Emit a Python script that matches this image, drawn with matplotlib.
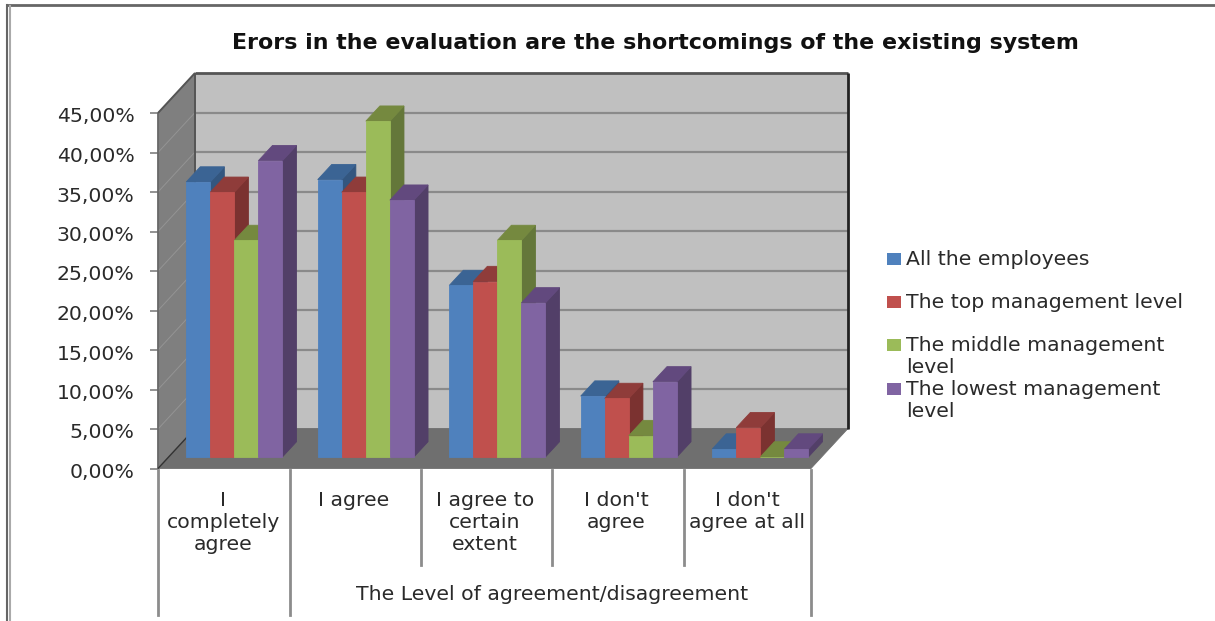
import matplotlib
matplotlib.use("Agg")
import matplotlib.pyplot as plt
from matplotlib.transforms import ScaledTranslation

W, H = 1215, 621
title = "Erors in the evaluation are the shortcomings of the existing system"
categories = ["I\ncompletely\nagree", "I agree", "I agree to\ncertain\nextent", "I don't\nagree", "I don't\nagree at all"]
group_label = "The Level of agreement/disagreement"
series_names = ["All the employees", "The top management level",
                "The middle management\nlevel", "The lowest management\nlevel"]
all_employees = [34.8, 35.1, 21.7, 7.7, 1.0]
top_level = [33.5, 33.5, 22.2, 7.4, 3.7]
middle_level = [27.4, 42.5, 27.4, 2.7, 0.0]
lowest_level = [37.5, 32.5, 19.5, 9.5, 1.0]
series = [all_employees, top_level, middle_level, lowest_level]
y_ticks = [0, 5, 10, 15, 20, 25, 30, 35, 40, 45]
y_labels = ["0,00%", "5,00%", "10,00%", "15,00%", "20,00%", "25,00%", "30,00%", "35,00%", "40,00%", "45,00%"]

front = ["#4F81BD", "#C0504D", "#9BBB59", "#8064A2"]
top_c = ["#3B6494", "#8F3C3A", "#75893F", "#62497E"]
side_c = ["#33567F", "#7B3230", "#64773A", "#523F68"]
TXT = "#2A2A2A"
FS = 14.7

fig = plt.figure(figsize=(W / 100, H / 100), dpi=100, facecolor="white")
x0, x1, y0, y45 = 158, 815.5, 468.5, 113
ax = fig.add_axes([x0 / W, 1 - y0 / H, (x1 - x0) / W, (y0 - y45) / H])
ax.set_xlim(0, 5)
ax.set_ylim(0, 45)
for s in ax.spines.values():
    s.set_visible(False)
ax.patch.set_visible(False)

pxx = 5 / (x1 - x0)          # data units per pixel horizontally
pxy = 45 / (y0 - y45)        # data units per pixel vertically
DX, DY = 37 * pxx, 40 * pxy  # full depth of the box
R = 653 * pxx                # right end of the box floor


def P(x, y, d):
    return x + d * DX, y + d * DY


def poly(pts, color, z=1, ec=None, lw=0.6):
    xs, ys = zip(*[P(*p) for p in pts])
    ax.fill(xs, ys, facecolor=color, edgecolor=ec or color, linewidth=lw, zorder=z, clip_on=False)


def seg(a, b, color, lw, z=2):
    xa, ya = P(*a)
    xb, yb = P(*b)
    ax.plot([xa, xb], [ya, yb], color=color, lw=lw, zorder=z, clip_on=False, solid_capstyle="butt")


# box
poly([(0, 0, 1), (R, 0, 1), (R, 45, 1), (0, 45, 1)], "#C0C0C0")
poly([(0, 0, 0), (0, 0, 1), (0, 45, 1), (0, 45, 0)], "#7F7F7F")
poly([(0, 0, 0), (R, 0, 0), (R, 0, 1), (0, 0, 1)], "#6F6F6F")
for v in y_ticks[1:-1]:
    seg((0, v, 1), (R, v, 1), "#8A8A8A", 1.6)
    seg((0, v, 0), (0, v, 1), "#949494", 0.7)
seg((0, 45, 1), (R, 45, 1), "#555555", 2.0, 3)
seg((0, 45, 0), (0, 45, 1), "#555555", 1.4, 3)
seg((0, 0, 1), (0, 45, 1), "#555555", 1.4, 3)
seg((R, 0, 1), (R, 45, 1), "#222222", 2.0, 3)
seg((0, 0, 0), (0, 45, 0), "#666666", 1.2, 3)
seg((0, 0, 0), (0, 0, 1), "#333333", 1.0, 3)

# bars
pad, bw, d0, d1 = 0.133, 0.183, 0.29, 0.67
z = 4
for c in range(len(categories)):
    for k, vals in enumerate(series):
        v = vals[c]
        a = c + pad + k * bw
        b = a + bw
        poly([(b, 0, d0), (b, 0, d1), (b, v, d1), (b, v, d0)], side_c[k], z)
        poly([(a, v, d0), (b, v, d0), (b, v, d1), (a, v, d1)], top_c[k], z)
        poly([(a, 0, d0), (b, 0, d0), (b, v, d0), (a, v, d0)], front[k], z)
        z += 1

# y axis
ax.set_yticks(y_ticks)
ax.set_yticklabels(y_labels, fontsize=FS, color=TXT)
ax.tick_params(axis="y", length=6, width=1.2, color="#808080", pad=11)
ax.set_xticks([])
shift = ScaledTranslation(0, -2 / 100, fig.dpi_scale_trans)
for lab in ax.get_yticklabels():
    lab.set_transform(lab.get_transform() + shift)


# pixel positions for annotation-level texts
def fx(p):
    return p / W


def fy(p):
    return 1 - p / H


# multi-level category axis
lv = plt.Line2D
for p, end in [(157.5, 615), (289.5, 615), (421, 565), (552, 565), (684, 565), (811.5, 615)]:
    fig.add_artist(lv([fx(p), fx(p)], [fy(470), fy(end)], color="#8C8C8C", lw=2))
for c, lab in enumerate(categories):
    fig.text(fx(223 + c * 131), fy(491), lab, ha="center", va="top",
             fontsize=FS, color=TXT, linespacing=1.2)
fig.text(fx(552), fy(594), group_label, ha="center", va="center", fontsize=FS, color=TXT)

# title
fig.text(fx(655), fy(43), title, ha="center", va="center", fontsize=15.9, fontweight="bold", color="#111111")

# legend
rows = [259, 302, 345, 389]
for k, name in enumerate(series_names):
    fig.patches.append(plt.Rectangle((fx(887), fy(rows[k] + 6)), 14 / W, 12 / H, transform=fig.transFigure,
                                     facecolor=front[k], edgecolor="none", figure=fig))
    fig.text(fx(906), fy(rows[k] - 9), name, ha="left", va="top", fontsize=FS, color=TXT, linespacing=1.2)

# outer frame
fig.add_artist(lv([fx(7), fx(W)], [fy(5), fy(5)], color="#666666", lw=2))
fig.add_artist(lv([fx(7), fx(7)], [fy(5), fy(H)], color="#666666", lw=1.5))
fig.add_artist(lv([fx(10.5), fx(10.5)], [fy(6), fy(H)], color="#AAAAAA", lw=1.5))

fig.savefig("out.png", dpi=100, facecolor="white")
